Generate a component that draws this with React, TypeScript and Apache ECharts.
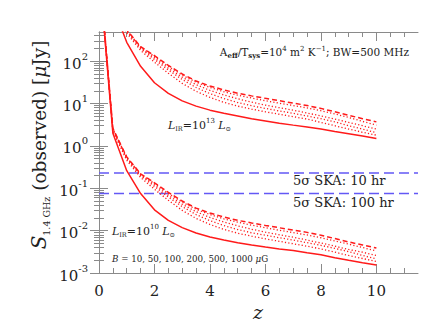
import React, { useEffect, useRef } from "react";
import * as echarts from "echarts";

// redshift grid
const Z = [0.1, 0.5, 1, 1.5, 2, 2.5, 3, 3.5, 4, 4.5, 5, 5.5, 6, 6.5, 7, 7.5, 8, 8.5, 9, 9.5, 10];
const B_VALUES = ["10", "50", "100", "200", "500", "1000"];

// L_IR = 1e10 Lsun, S_1.4GHz in μJy
const L10_B10 = [2600, 2.0, 0.26, 0.075, 0.031, 0.0175, 0.0118, 0.0088, 0.0071, 0.006, 0.0052, 0.0046, 0.0041, 0.0037, 0.0034, 0.003, 0.0027, 0.0023, 0.002, 0.00175, 0.00155];
const L10_B50 = [2700, 2.2, 0.46, 0.18, 0.095, 0.052, 0.03, 0.0195, 0.014, 0.0107, 0.0087, 0.0074, 0.0064, 0.0056, 0.0049, 0.0043, 0.0037, 0.0031, 0.0026, 0.0022, 0.00186];
const L10_B100 = [2800, 2.35, 0.5, 0.2, 0.11, 0.062, 0.037, 0.024, 0.0172, 0.0132, 0.0106, 0.0089, 0.0078, 0.0068, 0.006, 0.0052, 0.0045, 0.0038, 0.0032, 0.0026, 0.00215];
const L10_B200 = [2900, 2.45, 0.52, 0.205, 0.12, 0.068, 0.042, 0.028, 0.0205, 0.016, 0.013, 0.0108, 0.0092, 0.008, 0.007, 0.006, 0.0051, 0.0043, 0.0036, 0.0031, 0.0026];
const L10_B500 = [3000, 2.55, 0.54, 0.215, 0.13, 0.076, 0.047, 0.032, 0.024, 0.019, 0.0158, 0.0135, 0.0117, 0.0102, 0.009, 0.0079, 0.0068, 0.0057, 0.0048, 0.004, 0.0033];
const L10_B1000 = [3100, 2.6, 0.55, 0.22, 0.135, 0.08, 0.05, 0.034, 0.026, 0.021, 0.0175, 0.0152, 0.0133, 0.0117, 0.0103, 0.0091, 0.0078, 0.0065, 0.0054, 0.0046, 0.0039];

// L_IR = 1e13 Lsun
const L13_B10 = [2.6e6, 2000, 280, 76, 31, 17.5, 11.6, 8.7, 7.0, 5.9, 5.1, 4.4, 3.9, 3.45, 3.1, 2.8, 2.5, 2.2, 1.95, 1.72, 1.5];
const L13_B50 = [2.7e6, 2200, 460, 180, 95, 52, 30, 19.5, 14, 10.7, 8.7, 7.4, 6.4, 5.6, 4.9, 4.3, 3.6, 3.0, 2.5, 2.1, 1.8];
const L13_B100 = [2.8e6, 2350, 500, 200, 110, 62, 37, 24, 17.2, 13.2, 10.6, 8.9, 7.7, 6.7, 5.9, 5.1, 4.4, 3.7, 3.0, 2.5, 2.05];
const L13_B200 = [2.9e6, 2450, 520, 205, 120, 68, 42, 28, 20.5, 16, 13, 10.8, 9.2, 8.0, 7.0, 6.0, 5.1, 4.3, 3.6, 3.0, 2.5];
const L13_B500 = [3.0e6, 2550, 540, 215, 130, 76, 47, 32, 24, 19, 15.8, 13.5, 11.7, 10.2, 9.0, 7.9, 6.8, 5.7, 4.7, 3.8, 3.1];
const L13_B1000 = [3.1e6, 2600, 550, 220, 135, 80, 50, 34, 26, 21, 17.5, 15.2, 13.3, 11.7, 10.3, 9.0, 7.7, 6.4, 5.3, 4.4, 3.7];

// 5σ SKA sensitivity limits (μJy)
const SKA_LABELS = ["5σ SKA: 10 hr", "5σ SKA: 100 hr"];
const SKA_LIMITS = [0.23, 0.075];

// axis ticks
const X_MIN = 0;
const X_MAX = 11.5;
const X_MAJOR = [0, 2, 4, 6, 8, 10];
const X_MINOR = [0.5, 1, 1.5, 2.5, 3, 3.5, 4.5, 5, 5.5, 6.5, 7, 7.5, 8.5, 9, 9.5, 10.5, 11];
const Y_MIN = 0.001;
const Y_MAX = 490;
const Y_MAJOR = [0.001, 0.01, 0.1, 1, 10, 100];
const Y_MINOR: number[] = [];
for (let d = -3; d <= 2; d++) {
  for (let k = 2; k <= 9; k++) {
    const v = parseFloat((k * Math.pow(10, d)).toPrecision(6));
    if (v < Y_MAX) Y_MINOR.push(v);
  }
}

const RED = "#ff1a1a";
const BLUE = "#6358f5";
const AXIS_COLOR = "#8a8a8a";
const TEXT = "#222";
const SERIF = "'DejaVu Serif', serif";

const STYLES: Record<string, any> = {
  "10": { type: "solid", width: 1.5 },
  "50": { type: [1.2, 2.2], width: 1.3 },
  "100": { type: [1.2, 2.2], width: 1.3 },
  "200": { type: [1.2, 2.2], width: 1.3 },
  "500": { type: [1.2, 2.2], width: 1.3 },
  "1000": { type: [5, 3], width: 1.5 },
};

export default function App() {
  const ref = useRef<HTMLDivElement>(null);
  useEffect(() => {
    if (!ref.current) return;
    const chart = echarts.init(ref.current, undefined, { renderer: "svg" });

    const groups: [string, number[][]][] = [
      ["1e10", [L10_B10, L10_B50, L10_B100, L10_B200, L10_B500, L10_B1000]],
      ["1e13", [L13_B10, L13_B50, L13_B100, L13_B200, L13_B500, L13_B1000]],
    ];
    const series: any[] = [];
    groups.forEach(([lum, arrs]) => {
      arrs.forEach((arr, bi) => {
        const b = B_VALUES[bi];
        series.push({
          name: `L=${lum}, B=${b}`,
          type: "line",
          xAxisIndex: 0,
          yAxisIndex: 0,
          showSymbol: false,
          symbol: "none",
          data: Z.map((z, i) => [z, arr[i]]),
          lineStyle: { color: RED, width: STYLES[b].width, type: STYLES[b].type },
          z: 3,
        });
      });
    });
    SKA_LIMITS.forEach((v, i) => {
      series.push({
        name: SKA_LABELS[i],
        type: "line",
        xAxisIndex: 0,
        yAxisIndex: 0,
        showSymbol: false,
        symbol: "none",
        data: [
          [X_MIN, v],
          [X_MAX, v],
        ],
        lineStyle: { color: BLUE, width: 1.5, type: [10, 5] },
        z: 2,
      });
    });

    const supRich = {
      b: { fontFamily: SERIF, fontSize: 15, color: TEXT, lineHeight: 20, verticalAlign: "bottom" },
      e: { fontFamily: SERIF, fontSize: 10, color: TEXT, lineHeight: 20, verticalAlign: "top" },
    };

    const xBase = {
      type: "value",
      min: X_MIN,
      max: X_MAX,
      splitLine: { show: false },
    };
    const yBase = {
      type: "log",
      logBase: 10,
      min: Y_MIN,
      max: Y_MAX,
      splitLine: { show: false },
    };

    const lirRich = {
      L: { fontFamily: SERIF, fontStyle: "italic", fontSize: 11, fill: TEXT, lineHeight: 15, verticalAlign: "middle" },
      t: { fontFamily: SERIF, fontSize: 11, fill: TEXT, lineHeight: 15, verticalAlign: "middle" },
      sb: { fontFamily: SERIF, fontSize: 6.5, fill: TEXT, lineHeight: 15, verticalAlign: "bottom" },
      sp: { fontFamily: SERIF, fontSize: 7, fill: TEXT, lineHeight: 15, verticalAlign: "top" },
    };

    const option: any = {
      animation: false,
      backgroundColor: "#fff",
      grid: { left: 99, right: 29, top: 32, bottom: 63, containLabel: false },
      xAxis: [
        {
          ...xBase,
          position: "bottom",
          axisLine: { show: true, lineStyle: { color: AXIS_COLOR, width: 1 } },
          axisTick: { show: true, inside: true, length: 9, customValues: X_MAJOR, lineStyle: { color: AXIS_COLOR } },
          axisLabel: {
            show: true,
            customValues: X_MAJOR,
            margin: 10,
            fontFamily: SERIF,
            fontSize: 15,
            color: TEXT,
          },
        },
        {
          ...xBase,
          position: "bottom",
          axisLine: { show: false },
          axisTick: { show: true, inside: true, length: 5, customValues: X_MINOR, lineStyle: { color: AXIS_COLOR } },
          axisLabel: { show: false },
        },
        {
          ...xBase,
          position: "top",
          axisLine: { show: true, lineStyle: { color: AXIS_COLOR, width: 1 } },
          axisTick: { show: true, inside: true, length: 9, customValues: X_MAJOR, lineStyle: { color: AXIS_COLOR } },
          axisLabel: { show: false },
        },
        {
          ...xBase,
          position: "top",
          axisLine: { show: false },
          axisTick: { show: true, inside: true, length: 5, customValues: X_MINOR, lineStyle: { color: AXIS_COLOR } },
          axisLabel: { show: false },
        },
      ],
      yAxis: [
        {
          ...yBase,
          position: "left",
          axisLine: { show: true, lineStyle: { color: AXIS_COLOR, width: 1 } },
          axisTick: { show: true, inside: true, length: 9, customValues: Y_MAJOR, lineStyle: { color: AXIS_COLOR } },
          axisLabel: {
            show: true,
            customValues: Y_MAJOR,
            margin: 11,
            formatter: (v: number) => `{b|10}{e|${Math.round(Math.log10(v))}}`,
            rich: supRich,
          },
        },
        {
          ...yBase,
          position: "left",
          axisLine: { show: false },
          axisTick: { show: true, inside: true, length: 5, customValues: Y_MINOR, lineStyle: { color: AXIS_COLOR } },
          axisLabel: { show: false },
        },
        {
          ...yBase,
          position: "right",
          axisLine: { show: true, lineStyle: { color: AXIS_COLOR, width: 1 } },
          axisTick: { show: true, inside: true, length: 9, customValues: Y_MAJOR, lineStyle: { color: AXIS_COLOR } },
          axisLabel: { show: false },
        },
        {
          ...yBase,
          position: "right",
          axisLine: { show: false },
          axisTick: { show: true, inside: true, length: 5, customValues: Y_MINOR, lineStyle: { color: AXIS_COLOR } },
          axisLabel: { show: false },
        },
      ],
      series,
      graphic: [
        {
          type: "text",
          x: 39,
          y: 145,
          rotation: Math.PI / 2,
          style: {
            text: "{s|S}{sub|1.4 GHz}{t| (observed) [}{mu|μ}{t|Jy]}",
            align: "center",
            verticalAlign: "middle",
            fill: TEXT,
            rich: {
              s: { fontFamily: SERIF, fontStyle: "italic", fontSize: 20, fill: TEXT, lineHeight: 24, verticalAlign: "middle" },
              sub: { fontFamily: SERIF, fontSize: 9.5, fill: TEXT, lineHeight: 24, verticalAlign: "bottom" },
              t: { fontFamily: SERIF, fontSize: 18.5, fill: TEXT, lineHeight: 24, verticalAlign: "middle" },
              mu: { fontFamily: SERIF, fontStyle: "italic", fontSize: 18.5, fill: TEXT, lineHeight: 24, verticalAlign: "middle" },
            },
          },
        },
        {
          type: "text",
          x: 258,
          y: 312,
          style: {
            text: "z",
            font: `italic 19px ${SERIF}`,
            fill: TEXT,
            align: "center",
            verticalAlign: "middle",
          },
        },
        {
          type: "text",
          x: 409,
          y: 52,
          style: {
            text: "{t|A}{sb|eff}{t|/T}{sb|sys}{t|=10}{sp|4}{t| m}{sp|2}{t| K}{sp|−1}{t|; BW=500 MHz}",
            align: "right",
            verticalAlign: "middle",
            fill: TEXT,
            rich: {
              t: { fontFamily: SERIF, fontSize: 10.5, fill: TEXT, lineHeight: 14, verticalAlign: "middle" },
              sb: { fontFamily: SERIF, fontSize: 7, fill: TEXT, lineHeight: 14, verticalAlign: "bottom", fontWeight: "bold" },
              sp: { fontFamily: SERIF, fontSize: 7, fill: TEXT, lineHeight: 14, verticalAlign: "top" },
            },
          },
        },
        {
          type: "text",
          x: 168,
          y: 125,
          style: {
            text: "{L|L}{sb|IR}{t|=10}{sp|13} {L|L}{sb|⊙}",
            align: "left",
            verticalAlign: "middle",
            fill: TEXT,
            rich: lirRich,
          },
        },
        {
          type: "text",
          x: 112,
          y: 231,
          style: {
            text: "{L|L}{sb|IR}{t|=10}{sp|10} {L|L}{sb|⊙}",
            align: "left",
            verticalAlign: "middle",
            fill: TEXT,
            rich: lirRich,
          },
        },
        {
          type: "text",
          x: 293,
          y: 180,
          style: {
            text: SKA_LABELS[0],
            font: `13px ${SERIF}`,
            fill: TEXT,
            align: "left",
            verticalAlign: "middle",
          },
        },
        {
          type: "text",
          x: 293,
          y: 202,
          style: {
            text: SKA_LABELS[1],
            font: `13px ${SERIF}`,
            fill: TEXT,
            align: "left",
            verticalAlign: "middle",
          },
        },
        {
          type: "text",
          x: 112,
          y: 259,
          style: {
            text: `{B|B}{t| = ${B_VALUES.join(", ")} }{mu|μ}{t|G}`,
            align: "left",
            verticalAlign: "middle",
            fill: TEXT,
            rich: {
              B: { fontFamily: SERIF, fontStyle: "italic", fontSize: 8.7, fill: TEXT },
              t: { fontFamily: SERIF, fontSize: 8.7, fill: TEXT },
              mu: { fontFamily: SERIF, fontStyle: "italic", fontSize: 8.7, fill: TEXT },
            },
          },
        },
      ],
    };
    chart.setOption(option);
    return () => chart.dispose();
  }, []);

  return <div ref={ref} style={{ width: 447, height: 336, position: "absolute", left: 0, top: 0 }} />;
}
